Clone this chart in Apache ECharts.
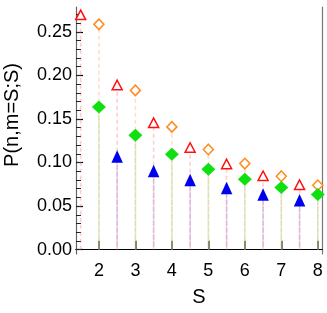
<!DOCTYPE html>
<html>
<head>
<meta charset="utf-8">
<script src="https://cdn.jsdelivr.net/npm/echarts@6/dist/echarts.min.js"></script>
<style>html,body{margin:0;padding:0;background:#fff}#c{width:327px;height:313px}</style>
</head>
<body>
<div id="c"></div>
<script>
// ---- data ----
var xHalfRed = [1.5, 2.5, 3.5, 4.5, 5.5, 6.5, 7.5];
var redOpenTri = [0.2695, 0.189, 0.1457, 0.1172, 0.0983, 0.0848, 0.0745];
var xInt = [2, 3, 4, 5, 6, 7, 8];
var orangeOpenDia = [0.2586, 0.1828, 0.1409, 0.115, 0.0988, 0.0843, 0.0739];
var greenFilledDia = [0.1636, 0.1313, 0.1095, 0.0923, 0.0808, 0.0713, 0.0632];
var xHalfBlue = [2.5, 3.5, 4.5, 5.5, 6.5, 7.5];
var blueFilledTri = [0.107, 0.0902, 0.080, 0.0707, 0.0633, 0.0567];
var xTicks = [2, 3, 4, 5, 6, 7, 8];
var yMajorTicks = [0, 0.05, 0.10, 0.15, 0.20, 0.25];
var yMinorTicks = [];
for (var k = 0; k <= 27; k++) yMinorTicks.push(+(k * 0.01).toFixed(2));

var FONT = 'Liberation Sans, Arial, sans-serif';
var YMIN = -0.005, YMAX = 0.2785, XMIN = 1.372, XMAX = 8.115;

function pairs(xs, ys) { return xs.map(function (x, i) { return [x, ys[i]]; }); }

function stem(data, color, offset) {
  return {
    type: 'custom', z: 1, silent: true,
    data: data,
    renderItem: function (params, api) {
      var p0 = api.coord([api.value(0), 0]);
      var p1 = api.coord([api.value(0), api.value(1)]);
      return {
        type: 'line',
        shape: { x1: p0[0], y1: p0[1], x2: p1[0], y2: p1[1] },
        style: { stroke: color, lineWidth: 1.6, lineDash: [4, 3], lineDashOffset: offset }
      };
    }
  };
}

var chart = echarts.init(document.getElementById('c'), null, { renderer: 'canvas' });
chart.setOption({
  animation: false,
  backgroundColor: '#fff',
  grid: { left: 76, right: 5, top: 7, bottom: 59 },
  xAxis: [{
    type: 'value', min: XMIN, max: XMAX, position: 'bottom',
    name: 'S', nameLocation: 'middle', nameGap: 33,
    nameTextStyle: { fontFamily: FONT, fontSize: 20, color: '#000' },
    axisLine: { show: true, lineStyle: { color: '#000', width: 1.2 } },
    axisTick: { show: true, inside: true, length: 9, customValues: xTicks, lineStyle: { color: '#555', width: 1.5 } },
    axisLabel: { show: true, customValues: xTicks, margin: 8, fontFamily: FONT, fontSize: 18, color: '#000' },
    splitLine: { show: false }
  }, {
    type: 'value', min: XMIN, max: XMAX, position: 'top',
    axisLine: { show: true, lineStyle: { color: '#000', width: 1.2 } },
    axisTick: { show: false }, axisLabel: { show: false }, splitLine: { show: false }
  }],
  yAxis: [{
    type: 'value', min: YMIN, max: YMAX, position: 'left',
    axisLine: { show: true, lineStyle: { color: '#666', width: 1.2 } },
    axisTick: { show: true, inside: true, length: 7, customValues: yMajorTicks, lineStyle: { color: '#000', width: 1.2 } },
    axisLabel: {
      show: true, customValues: yMajorTicks, margin: 4, fontFamily: FONT, fontSize: 18, color: '#000',
      formatter: function (v) { return v.toFixed(2); }
    },
    splitLine: { show: false }
  }, {
    type: 'value', min: YMIN, max: YMAX, position: 'left',
    axisLine: { show: false },
    axisTick: { show: true, inside: true, length: 5, customValues: yMinorTicks, lineStyle: { color: '#222', width: 1 } },
    axisLabel: { show: false }, splitLine: { show: false }
  }, {
    type: 'value', min: YMIN, max: YMAX, position: 'right',
    axisLine: { show: true, lineStyle: { color: '#777', width: 1.2 } },
    axisTick: { show: false }, axisLabel: { show: false }, splitLine: { show: false }
  }],
  graphic: [{
    type: 'text', x: 12, y: 115, rotation: Math.PI / 2,
    style: { text: 'P(n,m=S;S)', fontFamily: FONT, fontSize: 20, fill: '#000', align: 'center', verticalAlign: 'middle' }
  }],
  series: [
    stem(pairs(xHalfRed, redOpenTri), 'rgba(255,90,90,0.30)', 0),
    stem(pairs(xHalfBlue, blueFilledTri), 'rgba(120,80,220,0.38)', 3.5),
    stem(pairs(xInt, orangeOpenDia), 'rgba(255,150,60,0.30)', 0),
    stem(pairs(xInt, greenFilledDia), 'rgba(90,200,60,0.35)', 3.5),
    {
      type: 'scatter', z: 5, data: pairs(xHalfRed, redOpenTri), symbol: 'triangle', symbolSize: [10, 9.5],
      itemStyle: { color: '#fff', borderColor: '#ff1010', borderWidth: 1.5, opacity: 1 }
    },
    {
      type: 'scatter', z: 5, data: pairs(xHalfBlue, blueFilledTri), symbol: 'triangle', symbolSize: [11.5, 12.5],
      itemStyle: { color: '#0000ee', opacity: 1 }
    },
    {
      type: 'scatter', z: 5, data: pairs(xInt, orangeOpenDia), symbol: 'diamond', symbolSize: [10, 10.5],
      itemStyle: { color: '#fff', borderColor: '#ff8a1a', borderWidth: 1.5, opacity: 1 }
    },
    {
      type: 'scatter', z: 6, data: pairs(xInt, greenFilledDia), symbol: 'diamond', symbolSize: [14, 13],
      itemStyle: { color: '#10e010', opacity: 1 }
    }
  ]
});
</script>
</body>
</html>
